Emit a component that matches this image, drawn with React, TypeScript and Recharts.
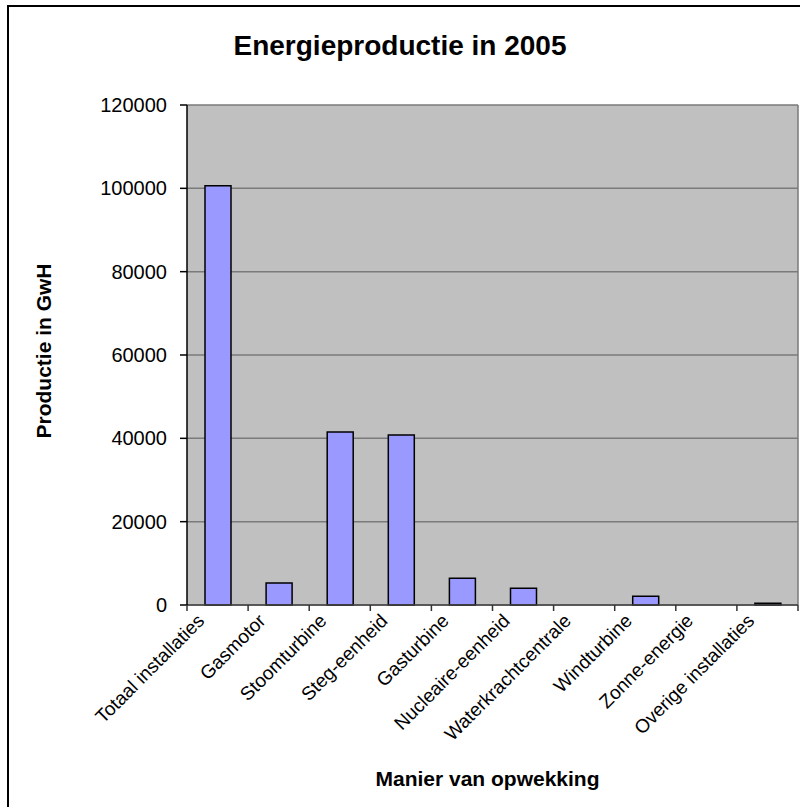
import React from 'react';
import { BarChart, Bar, XAxis, YAxis, CartesianGrid } from 'recharts';

const categories = [
  'Totaal installaties',
  'Gasmotor',
  'Stoomturbine',
  'Steg-eenheid',
  'Gasturbine',
  'Nucleaire-eenheid',
  'Waterkrachtcentrale',
  'Windturbine',
  'Zonne-energie',
  'Overige installaties',
];
const productie = [100600, 5300, 41500, 40800, 6400, 4000, 0, 2100, 0, 400];
const yTicks = [0, 20000, 40000, 60000, 80000, 100000, 120000];

const data = categories.map((naam, i) => ({ naam, productie: productie[i] }));

const W = 800;
const H = 807;
const margin = { top: 105, right: 2, bottom: 0, left: 0 };
const xAxisHeight = 202;
const yAxisWidth = 187;
const plotWidth = W - margin.left - margin.right - yAxisWidth;
const font = 'Arial, "Liberation Sans", sans-serif';

const CategoryTick = (props: any) => {
  const { x, y, payload, index, visibleTicksCount } = props;
  const band = plotWidth / (visibleTicksCount || categories.length);
  const tx = x - 12;
  const ty = y + 17;
  return (
    <g>
      <line x1={x - band / 2} y1={y} x2={x - band / 2} y2={y + 6} stroke="#333" strokeWidth={1.5} />
      {index === visibleTicksCount - 1 && (
        <line x1={x + band / 2} y1={y} x2={x + band / 2} y2={y + 6} stroke="#333" strokeWidth={1.5} />
      )}
      <text
        x={tx}
        y={ty}
        transform={`rotate(-45, ${tx}, ${ty})`}
        textAnchor="end"
        fontSize={19}
        fontFamily={font}
        fill="#000"
      >
        {payload.value}
      </text>
    </g>
  );
};

const YLabel = (props: any) => {
  const { viewBox } = props;
  const cy = viewBox.y + viewBox.height / 2 - 4;
  return (
    <text
      x={43}
      y={cy}
      transform={`rotate(-90, 43, ${cy})`}
      textAnchor="middle"
      dominantBaseline="central"
      fontSize={21}
      fontWeight="bold"
      fontFamily={font}
      fill="#000"
    >
      Productie in GwH
    </text>
  );
};

const XLabel = (props: any) => {
  const { viewBox } = props;
  const cx = viewBox.x + viewBox.width / 2 - 5;
  return (
    <text x={cx} y={786} textAnchor="middle" fontSize={21} fontWeight="bold" fontFamily={font} fill="#000">
      Manier van opwekking
    </text>
  );
};

export default function App() {
  return (
    <div style={{ position: 'fixed', left: 0, top: 0, width: W, height: H, background: '#fff', overflow: 'hidden' }}>
      <div
        style={{
          position: 'absolute',
          left: 7,
          top: 5,
          width: 900,
          height: 900,
          border: '2px solid #000',
        }}
      />
      <div
        style={{
          position: 'absolute',
          left: 0,
          top: 28,
          width: W,
          textAlign: 'center',
          fontFamily: font,
          fontWeight: 'bold',
          fontSize: 28,
          lineHeight: '36px',
          color: '#000',
        }}
      >
        Energieproductie in 2005
      </div>
      <div style={{ position: 'absolute', left: 0, top: 0 }}>
        <BarChart width={W} height={H} data={data} margin={margin} barSize={26}>
          <CartesianGrid
            fill="#C0C0C0"
            stroke="#7a7a7a"
            strokeWidth={1.5}
            vertical={true}
            verticalCoordinatesGenerator={({ offset }: any) => [offset.left + offset.width]}
          />
          <XAxis
            dataKey="naam"
            interval={0}
            tickLine={false}
            tickSize={0}
            tickMargin={0}
            axisLine={{ stroke: '#444', strokeWidth: 1.5 }}
            tick={<CategoryTick />}
            height={xAxisHeight}
            label={<XLabel />}
          />
          <YAxis
            width={yAxisWidth}
            domain={[0, 120000]}
            ticks={yTicks}
            interval={0}
            tickSize={7}
            tickMargin={13}
            axisLine={{ stroke: '#000', strokeWidth: 1.5 }}
            tickLine={{ stroke: '#000', strokeWidth: 1.5 }}
            tick={{ fill: '#000', fontSize: 20, fontFamily: font }}
            label={<YLabel />}
          />
          <Bar
            dataKey="productie"
            fill="#9999FF"
            stroke="#000"
            strokeWidth={1.5}
            isAnimationActive={false}
          />
        </BarChart>
      </div>
    </div>
  );
}
